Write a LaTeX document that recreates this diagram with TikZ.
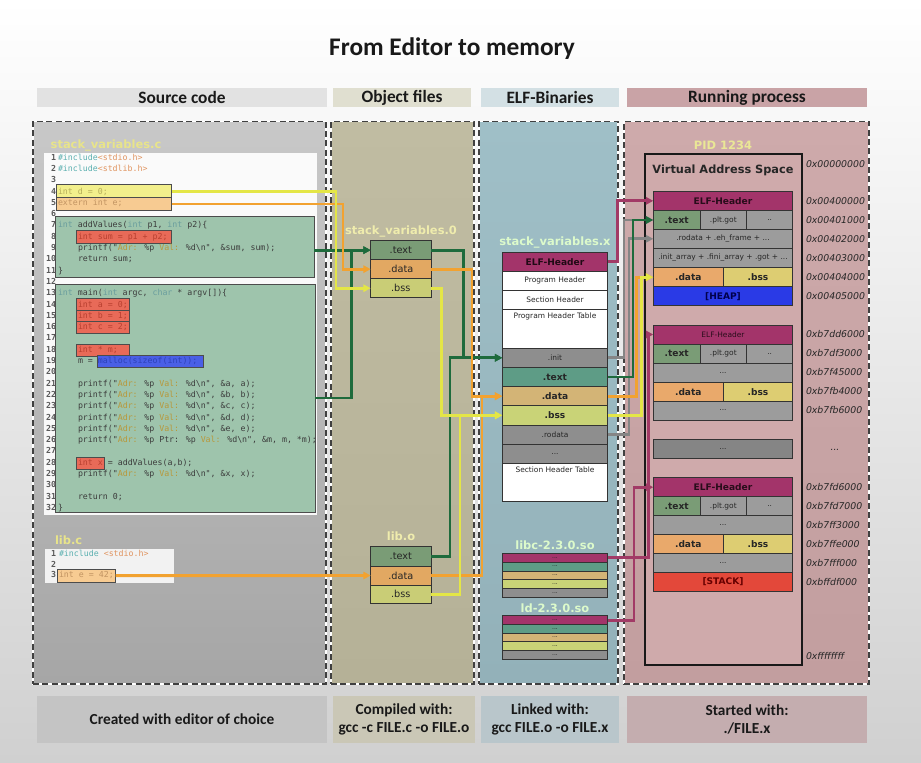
\documentclass[tikz,border=0pt]{standalone}
\usepackage{fontspec}
\setmainfont{DejaVu Sans}
\newfontfamily\hf{Carlito}
\newfontfamily\cf{DejaVu Sans Mono}
\usetikzlibrary{arrows.meta,calc}
\definecolor{bgbot}{HTML}{D0D0D0}
\definecolor{bgmid}{HTML}{ECECEC}
\definecolor{srcT}{HTML}{C8C8C8}\definecolor{srcB}{HTML}{A6A6A6}
\definecolor{objT}{HTML}{C0BCA2}\definecolor{objB}{HTML}{B5B197}
\definecolor{elfT}{HTML}{9FBFC7}\definecolor{elfB}{HTML}{93B1B9}
\definecolor{runT}{HTML}{CEAAAB}\definecolor{runB}{HTML}{C29E9F}
\definecolor{hdrSrc}{HTML}{E2E2E2}\definecolor{hdrObj}{HTML}{E0DFD0}
\definecolor{hdrElf}{HTML}{D3E0E4}\definecolor{hdrRun}{HTML}{C9A3A6}
\definecolor{botSrc}{HTML}{C4C4C4}\definecolor{botObj}{HTML}{CAC7B6}
\definecolor{botElf}{HTML}{B9C6CB}\definecolor{botRun}{HTML}{C4ADAF}
\definecolor{vasfill}{HTML}{CFAAAB}
\definecolor{mag}{HTML}{A3346A}
\definecolor{gtext}{HTML}{7A9C76}\definecolor{etext}{HTML}{5E9C86}
\definecolor{odata}{HTML}{E2A862}\definecolor{edata}{HTML}{D3B476}\definecolor{vdata}{HTML}{E9A96B}
\definecolor{ybss}{HTML}{C9CD76}\definecolor{ebss}{HTML}{C9D377}\definecolor{vbss}{HTML}{DDCD72}
\definecolor{grayseg}{HTML}{9C9C9C}\definecolor{egray}{HTML}{8E8E8E}
\definecolor{heapc}{HTML}{2A3AE6}\definecolor{stackc}{HTML}{E3483A}
\definecolor{cgreen}{HTML}{1E6B3C}\definecolor{corange}{HTML}{F2A230}
\definecolor{cyellow}{HTML}{E4E646}\definecolor{cgray}{HTML}{858585}\definecolor{cmag}{HTML}{A23A66}
\definecolor{labelc}{HTML}{E8E48A}
\definecolor{codec}{HTML}{3C3C3C}\definecolor{kwc}{HTML}{6A9E9E}\definecolor{stc}{HTML}{B8983A}
\definecolor{incc}{HTML}{5CB0B0}\definecolor{hdrc}{HTML}{E09460}
\definecolor{hlfour}{HTML}{F2EF8C}\definecolor{hlfive}{HTML}{F7CB92}\definecolor{grn}{HTML}{9EC4AC}
\definecolor{redb}{HTML}{E86A58}\definecolor{blueb}{HTML}{4A5FE6}
\definecolor{hlfourt}{HTML}{B7AE5A}\definecolor{hlfivet}{HTML}{C29462}
\definecolor{redt}{HTML}{B84030}\definecolor{bluet}{HTML}{2E42B8}
\newcommand\bx[7]{\node[#6, minimum width={(#4-#2)*0.75pt}, minimum height={(#5-#3)*0.75pt}] (#1) at ({(#2+#4)/2},{(#3+#5)/2}) {#7};}
\newcommand\ckw[1]{\textcolor{kwc}{#1}}
\newcommand\cst[1]{\textcolor{stc}{#1}}
\newcommand\cl[3]{\node[lnum] (n#1) at (56,{158+(#1-1)*11.3}) {#1};\node[ctext] (c#1) at (#2,{158+(#1-1)*11.3}) {#3};}
\begin{document}
\begin{tikzpicture}[x=0.75pt,y=-0.75pt,
 bse/.style={inner sep=0pt, outer sep=0pt},
 sg/.style={bse, draw=black!80, line width=0.6pt, text=black!85},
 panel/.style={bse, draw=white, line width=1.1pt, postaction={draw=black!75, line width=1.1pt, dash pattern=on 4.5pt off 2.5pt}},
 hbar/.style={bse, font=\hf\bfseries\fontsize{13}{13}\selectfont, text=black!90},
 hbot/.style={bse, font=\hf\bfseries\fontsize{11.5}{13.5}\selectfont, align=center, text=black!90},
 lbl/.style={bse, font=\bfseries\fontsize{8.6}{8.6}\selectfont, text=labelc},
 fbig/.style={font=\bfseries\fontsize{6.8}{6.8}\selectfont},
 fmid/.style={font=\fontsize{7.3}{7.3}\selectfont},
 fsm/.style={font=\fontsize{5.6}{5.6}\selectfont},
 ftiny/.style={font=\fontsize{4.5}{4.5}\selectfont},
 adr/.style={bse, anchor=west, font=\itshape\fontsize{7}{7}\selectfont, text=black!85},
 lnum/.style={bse, anchor=east, font=\cf\bfseries\fontsize{6.2}{6.2}\selectfont, text=black!65, text height=4.6pt, text depth=1.4pt},
 ctext/.style={bse, anchor=west, font=\cf\fontsize{6.2}{6.2}\selectfont, text=codec, text height=4.6pt, text depth=1.4pt},
 hl/.style={bse, draw=black!70, line width=0.6pt},
 conn/.style={line width=2.2pt, -{Triangle[length=5.5pt,width=5.5pt]}},
 cgn/.style={conn, draw=cgreen},
 cor/.style={conn, draw=corange},
 cyl/.style={conn, draw=cyellow},
 cgy/.style={conn, draw=cgray},
 cmg/.style={conn, draw=cmag}]
\useasboundingbox (0,0) rectangle (921,763);
\shade[top color=white, middle color=bgmid, bottom color=bgbot] (0,0) rectangle (921,763);
% title and header bars
\node[bse, font=\hf\bfseries\fontsize{19}{19}\selectfont, text=black!90] (title) at (452,49) {From Editor to memory};
\bx{hsrc}{37}{88}{327}{107}{hbar, fill=hdrSrc}{Source code}
\bx{hobj}{333}{88}{471}{107}{hbar, fill=hdrObj}{Object files}
\bx{helf}{481}{88}{619}{107}{hbar, fill=hdrElf}{ELF-Binaries}
\bx{hrun}{627}{88}{867}{107}{hbar, fill=hdrRun}{Running process}
% panels
\bx{psrc}{33}{121.5}{326}{684}{panel, top color=srcT, bottom color=srcB}{}
\bx{pobj}{331}{121.5}{474}{684}{panel, top color=objT, bottom color=objB}{}
\bx{pelf}{479}{121.5}{618}{684}{panel, top color=elfT, bottom color=elfB}{}
\bx{prun}{624}{121.5}{869}{684}{panel, top color=runT, bottom color=runB}{}
% bottom boxes
\bx{bsrc}{37}{696}{327}{742.7}{hbot, fill=botSrc}{Created with editor of choice}
\bx{bobj}{333}{696}{475}{742.7}{hbot, fill=botObj}{Compiled with:\\gcc -c FILE.c -o FILE.o}
\bx{belf}{481}{696}{619}{742.7}{hbot, fill=botElf}{Linked with:\\gcc FILE.o -o FILE.x}
\bx{brun}{627}{696}{867}{742.7}{hbot, fill=botRun}{Started with:\\./FILE.x}
% ---------- source code ----------
\node[lbl, anchor=west] (lsrc) at (50.7,145) {stack\_variables.c};
\bx{codebg}{44}{153}{317}{515}{bse, fill=white, fill opacity=0.92}{}
\bx{addbox}{55.7}{216.7}{314}{277.7}{hl, fill=grn}{}
\bx{mainbox}{55}{284}{315}{512}{hl, fill=grn}{}
\bx{hlfourb}{56}{184.6}{171.7}{197.55}{hl, fill=hlfour}{}
\bx{hlfiveb}{56}{197.55}{171.7}{210.5}{hl, fill=hlfive}{}
\bx{r8}{76}{230.6}{171.7}{243.6}{hl, fill=redb}{}
\bx{r14}{76}{298.7}{129}{311.1}{hl, fill=redb}{}
\bx{r15}{76}{310}{129}{322.4}{hl, fill=redb}{}
\bx{r16}{76}{321.3}{129}{333.7}{hl, fill=redb}{}
\bx{r18}{76}{343.9}{129}{356.3}{hl, fill=redb}{}
\bx{b19}{97.7}{355.2}{203}{367.6}{hl, fill=blueb}{}
\bx{r28}{76}{456.9}{104.7}{469.3}{hl, fill=redb}{}
\cl{1}{58}{\textcolor{incc}{\#include}\textcolor{hdrc}{<stdio.h>}}
\cl{2}{58}{\textcolor{incc}{\#include}\textcolor{hdrc}{<stdlib.h>}}
\cl{3}{58}{}
\cl{4}{58}{\textcolor{hlfourt}{int d = 0;}}
\cl{5}{58}{\textcolor{hlfivet}{extern int e;}}
\cl{6}{58}{}
\cl{7}{58}{\ckw{int} addValues(\ckw{int} p1, \ckw{int} p2)\{}
\cl{8}{78}{\textcolor{redt}{int sum = p1 + p2;}}
\cl{9}{78}{printf("\cst{Adr:} \%p \cst{Val:} \%d\textbackslash n", \&sum, sum);}
\cl{10}{78}{return sum;}
\cl{11}{58}{\}}
\cl{12}{58}{}
\cl{13}{58}{\ckw{int} main(\ckw{int} argc, \ckw{char} * argv[])\{}
\cl{14}{78}{\textcolor{redt}{int a = 0;}}
\cl{15}{78}{\textcolor{redt}{int b = 1;}}
\cl{16}{78}{\textcolor{redt}{int c = 2;}}
\cl{17}{58}{}
\cl{18}{78}{\textcolor{redt}{int * m;}}
\cl{19}{78}{m = \textcolor{bluet}{malloc(sizeof(int));}}
\cl{20}{58}{}
\cl{21}{78}{printf("\cst{Adr:} \%p \cst{Val:} \%d\textbackslash n", \&a, a);}
\cl{22}{78}{printf("\cst{Adr:} \%p \cst{Val:} \%d\textbackslash n", \&b, b);}
\cl{23}{78}{printf("\cst{Adr:} \%p \cst{Val:} \%d\textbackslash n", \&c, c);}
\cl{24}{78}{printf("\cst{Adr:} \%p \cst{Val:} \%d\textbackslash n", \&d, d);}
\cl{25}{78}{printf("\cst{Adr:} \%p \cst{Val:} \%d\textbackslash n", \&e, e);}
\cl{26}{78}{printf("\cst{Adr:} \%p Ptr: \%p \cst{Val:} \%d\textbackslash n", \&m, m, *m);}
\cl{27}{58}{}
\cl{28}{78}{\textcolor{redt}{int x} = addValues(a,b);}
\cl{29}{78}{printf("\cst{Adr:} \%p \cst{Val:} \%d\textbackslash n", \&x, x);}
\cl{30}{58}{}
\cl{31}{78}{return 0;}
\cl{32}{58}{\}}
% lib.c
\node[lbl, anchor=west] (llib) at (55,540) {lib.c};
\bx{libbg}{45}{549}{174}{583}{bse, fill=white, fill opacity=0.85}{}
\bx{lcbox}{57}{569}{115.7}{582.3}{hl, fill=hlfive}{}
\node[lnum] (ln1) at (56,554) {1};
\node[ctext] (lt1) at (59,554) {\textcolor{incc}{\#include} \textcolor{hdrc}{<stdio.h>}};
\node[lnum] (ln2) at (56,565) {2};
\node[lnum] (ln3) at (56,575.7) {3};
\node[ctext] (lt3) at (59,575.7) {\textcolor{hlfivet}{int e = 42;}};
% ---------- object files ----------
\node[lbl, text=labelc!70!white] (lobj) at (401,231) {stack\_variables.0};
\bx{otext}{370.7}{240.7}{431}{259.6}{sg, fill=gtext, fmid}{.text}
\bx{odat}{370.7}{259.6}{431}{278.7}{sg, fill=odata, fmid}{.data}
\bx{obss}{370.7}{278.7}{431}{297.7}{sg, fill=ybss, fmid}{.bss}
\node[lbl, text=labelc!70!white] (llo) at (401,536.7) {lib.o};
\bx{ltext}{370.7}{546.7}{431}{566}{sg, fill=gtext, fmid}{.text}
\bx{ldat}{370.7}{566}{431}{585}{sg, fill=odata, fmid}{.data}
\bx{lbss}{370.7}{585}{431}{603.5}{sg, fill=ybss, fmid}{.bss}
% ---------- ELF ----------
\node[lbl, text=labelc!60!green!30!white] (lelf) at (555,242.7) {stack\_variables.x};
\bx{ehdr}{502.3}{252.3}{607.7}{271}{sg, fill=mag, fbig, text=black!80!mag}{ELF-Header}
\bx{eph}{502.3}{271}{607.7}{290.3}{sg, fill=white, fsm}{Program Header}
\bx{esh}{502.3}{290.3}{607.7}{309.3}{sg, fill=white, fsm}{Section Header}
\bx{epht}{502.3}{309.3}{607.7}{348.3}{sg, fill=white}{}
\node[bse, fsm, anchor=north, text=black!85] (ephtt) at ([yshift=-3pt]epht.north) {Program Header Table};
\bx{einit}{502.3}{348.3}{607.7}{367.3}{sg, fill=egray, fsm}{.init}
\bx{etxt}{502.3}{367.3}{607.7}{386.7}{sg, fill=etext, fbig}{.text}
\bx{edat}{502.3}{386.7}{607.7}{405.7}{sg, fill=edata, fbig}{.data}
\bx{ebs}{502.3}{405.7}{607.7}{425}{sg, fill=ebss, fbig}{.bss}
\bx{erod}{502.3}{425}{607.7}{444}{sg, fill=egray, fsm}{.rodata}
\bx{edots}{502.3}{444}{607.7}{463.3}{sg, fill=egray, fsm}{...}
\bx{esht}{502.3}{463.3}{607.7}{501}{sg, fill=white}{}
\node[bse, fsm, anchor=north, text=black!85] (eshtt) at ([yshift=-3pt]esht.north) {Section Header Table};
\node[lbl, text=labelc!60!green!30!white] (llibc) at (555,545.7) {libc-2.3.0.so};
\bx{ca}{502.3}{553.3}{607.7}{562.1}{sg, fill=mag, ftiny}{...}
\bx{cb}{502.3}{562.1}{607.7}{570.9}{sg, fill=etext, ftiny}{...}
\bx{cc}{502.3}{570.9}{607.7}{579.7}{sg, fill=edata, ftiny}{...}
\bx{cd}{502.3}{579.7}{607.7}{588.5}{sg, fill=ebss, ftiny}{...}
\bx{ce}{502.3}{588.5}{607.7}{597.3}{sg, fill=egray, ftiny}{...}
\node[lbl, text=labelc!60!green!30!white] (lld) at (555,608.3) {ld-2.3.0.so};
\bx{da}{502.3}{615.7}{607.7}{624.4}{sg, fill=mag, ftiny}{...}
\bx{db}{502.3}{624.4}{607.7}{633.1}{sg, fill=etext, ftiny}{...}
\bx{dc}{502.3}{633.1}{607.7}{641.8}{sg, fill=edata, ftiny}{...}
\bx{dd}{502.3}{641.8}{607.7}{650.5}{sg, fill=ebss, ftiny}{...}
\bx{de}{502.3}{650.5}{607.7}{659.3}{sg, fill=egray, ftiny}{...}
% ---------- running process ----------
\node[lbl, text=labelc!90!white] (lpid) at (723,145.7) {PID 1234};
\bx{vas}{645}{154.3}{801.7}{665}{bse, draw=black!90, line width=1.4pt, fill=vasfill}{}
\node[bse, font=\bfseries\fontsize{8.5}{8.5}\selectfont, text=black!85] (vast) at (723,170) {Virtual Address Space};
% group 1
\bx{vahdr}{653.3}{191}{792.7}{210.7}{sg, fill=mag, fbig, text=black!75!mag}{ELF-Header}
\bx{vatext}{653.3}{210.7}{700}{229.3}{sg, fill=gtext, fbig}{.text}
\bx{vaplt}{700}{210.7}{746.7}{229.3}{sg, fill=grayseg, fsm}{.plt.got}
\bx{vadd}{746.7}{210.7}{792.7}{229.3}{sg, fill=grayseg, fsm}{..}
\bx{varod}{653.3}{229.3}{792.7}{248.3}{sg, fill=grayseg, fsm}{.rodata + .eh\_frame + ...}
\bx{vainit}{653.3}{248.3}{792.7}{267.7}{sg, fill=grayseg, fsm}{.init\_array + .fini\_array + .got + ...}
\bx{vadata}{653.3}{267.7}{723.3}{286.7}{sg, fill=vdata, fbig}{.data}
\bx{vabss}{723.3}{267.7}{792.7}{286.7}{sg, fill=vbss, fbig}{.bss}
\bx{vaheap}{653.3}{286.7}{792.7}{305.7}{sg, fill=heapc, fbig, text=blue!30!black}{[HEAP]}
% group 2
\bx{vbhdr}{653.3}{325}{792.7}{344}{sg, fill=mag, fsm, text=black!75!mag}{ELF-Header}
\bx{vbtext}{653.3}{344}{700}{363.3}{sg, fill=gtext, fbig}{.text}
\bx{vbplt}{700}{344}{746.7}{363.3}{sg, fill=grayseg, fsm}{.plt.got}
\bx{vbdd}{746.7}{344}{792.7}{363.3}{sg, fill=grayseg, fsm}{..}
\bx{vba}{653.3}{363.3}{792.7}{382.3}{sg, fill=grayseg, fsm}{...}
\bx{vbdata}{653.3}{382.3}{723.3}{401}{sg, fill=vdata, fbig}{.data}
\bx{vbbss}{723.3}{382.3}{792.7}{401}{sg, fill=vbss, fbig}{.bss}
\bx{vbb}{653.3}{401}{792.7}{420}{sg, fill=grayseg, fsm}{...}
\bx{vsep}{653.3}{439.3}{792.7}{458.3}{sg, fill=grayseg!85!black, fsm}{...}
% group 3
\bx{vchdr}{653.3}{477.7}{792.7}{496.7}{sg, fill=mag, fbig, text=black!75!mag}{ELF-Header}
\bx{vctext}{653.3}{496.7}{700}{515.7}{sg, fill=gtext, fbig}{.text}
\bx{vcplt}{700}{496.7}{746.7}{515.7}{sg, fill=grayseg, fsm}{.plt.got}
\bx{vcdd}{746.7}{496.7}{792.7}{515.7}{sg, fill=grayseg, fsm}{..}
\bx{vca}{653.3}{515.7}{792.7}{534.3}{sg, fill=grayseg, fsm}{...}
\bx{vcdata}{653.3}{534.3}{723.3}{553.3}{sg, fill=vdata, fbig}{.data}
\bx{vcbss}{723.3}{534.3}{792.7}{553.3}{sg, fill=vbss, fbig}{.bss}
\bx{vcb}{653.3}{553.3}{792.7}{572.3}{sg, fill=grayseg, fsm}{...}
\bx{vcstack}{653.3}{572.3}{792.7}{591.7}{sg, fill=stackc, fbig, text=red!40!black}{[STACK]}
% addresses
\node[adr] (a1) at (806,164) {0x00000000};
\node[adr] (a2) at (806,201) {0x00400000};
\node[adr] (a3) at (806,220) {0x00401000};
\node[adr] (a4) at (806,239) {0x00402000};
\node[adr] (a5) at (806,258.3) {0x00403000};
\node[adr] (a6) at (806,277.5) {0x00404000};
\node[adr] (a7) at (806,296.5) {0x00405000};
\node[adr] (a8) at (806,334.5) {0xb7dd6000};
\node[adr] (a9) at (806,353.5) {0xb7df3000};
\node[adr] (a10) at (806,372.5) {0xb7f45000};
\node[adr] (a11) at (806,391.5) {0xb7fb4000};
\node[adr] (a12) at (806,410.5) {0xb7fb6000};
\node[adr, anchor=center] (a13) at (835,450) {...};
\node[adr] (a14) at (806,487) {0xb7fd6000};
\node[adr] (a15) at (806,506) {0xb7fd7000};
\node[adr] (a16) at (806,525) {0xb7ff3000};
\node[adr] (a17) at (806,544) {0xb7ffe000};
\node[adr] (a18) at (806,563) {0xb7fff000};
\node[adr] (a19) at (806,582) {0xbffdf000};
\node[adr] (a20) at (806,656) {0xffffffff};
% ---------- connectors ----------
\draw[cgn] (addbox.east |- otext.west) -- (otext.west);
\draw[cgn] (mainbox.east) -| ($(otext.west)+(-19,0)$) -- (otext.west);
\draw[cor] (hlfiveb.east) -| ($(odat.west)+(-27.7,0)$) -- (odat.west);
\draw[cyl] (hlfourb.east) -| ($(obss.west)+(-34.7,0)$) -- (obss.west);
\draw[cor] (lcbox.east) -- (ldat.west);
\draw[cgn] (otext.east) -- ++(32.3,0) |- (einit.west);
\draw[cgn] (ltext.east) -- ++(19,0) |- (einit.west);
\draw[cor] (odat.east) -- ++(41,0) |- (edat.west);
\draw[cor] (ldat.east) -- ++(51,0) |- (edat.west);
\draw[cyl] (obss.east) -- ++(10.7,0) |- (ebs.west);
\draw[cyl] (lbss.east) -- ++(29,0) |- (ebs.west);
\draw[cmg] (ehdr.east) -- ++(10,0) |- (vahdr.west);
\draw[cgy] (einit.east) -- ++(16.3,0) |- (vatext.west);
\draw[cgy] (erod.east) -- ++(21.3,0) |- (varod.west);
\draw[cgn] (etxt.east) -- ++(25.3,0) |- (vatext.west);
\draw[cor] (edat.east) -- ++(29,0) |- (vadata.west);
\draw[cyl] (ebs.east) -- ++(34,0) |- (vadata.west);
\draw[cmg] (ca.east) -- ++(40.6,0) |- (vbhdr.west);
\draw[cmg] (da.east) -- ++(26.3,0) |- (vchdr.west);
\end{tikzpicture}
\end{document}
